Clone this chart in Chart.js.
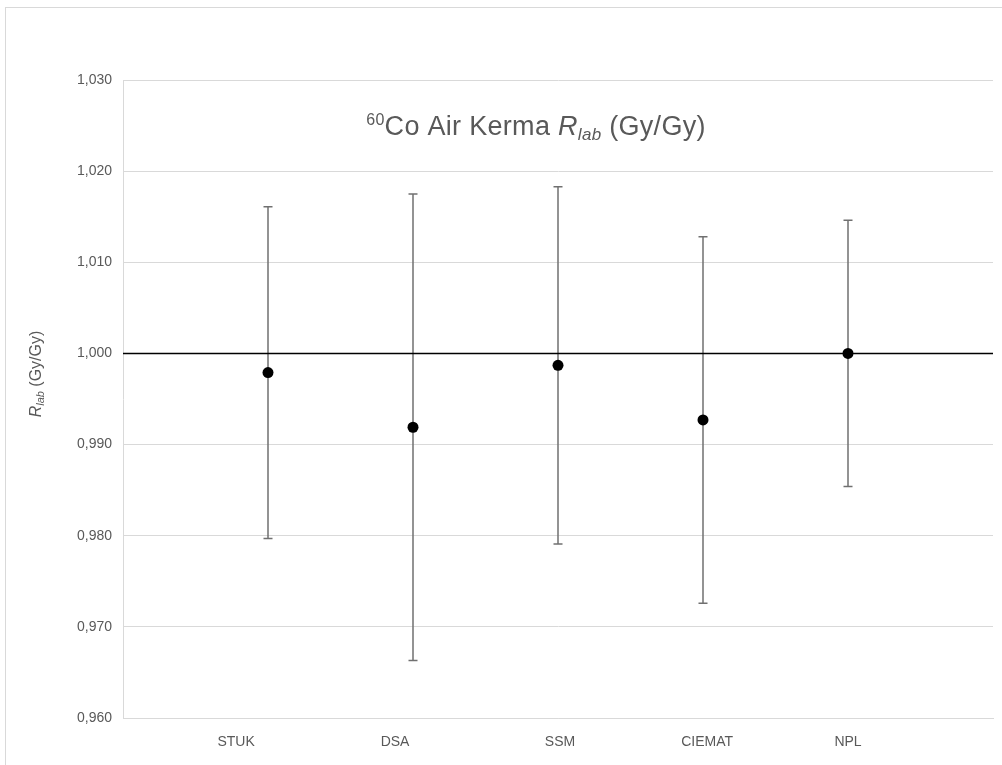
<!DOCTYPE html>
<html>
<head>
<meta charset="utf-8">
<script src="https://cdn.jsdelivr.net/npm/chart.js@4.4.1/dist/chart.umd.min.js"></script>
<style>
  body { margin: 0; background: #fff; overflow: hidden; }
  #frame { position: absolute; left: 5px; top: 7px; width: 1100px; height: 900px; border: 1px solid #d9d9d9; }
  #wrap { position: absolute; left: 0; top: 0; width: 1002px; height: 765px; }
</style>
</head>
<body>
<div id="frame"></div>
<div id="wrap"><canvas id="rlabChart"></canvas></div>
<script>
// Labs and their Rlab results with uncertainty
const labs = ['STUK', 'DSA', 'SSM', 'CIEMAT', 'NPL'];
const rlab = [0.9979, 0.9919, 0.9987, 0.9927, 1.0000];
const unc = [0.0182, 0.0256, 0.0196, 0.0201, 0.0146];
// x values where the lab names sit on the axis (not quite under the points in the original)
const labelAt = [0.78, 1.876, 3.014, 4.028, 5.0];
const yTicks = [0.960, 0.970, 0.980, 0.990, 1.000, 1.010, 1.020, 1.030];
const refLine = 1.000;

const FONT = '"Liberation Sans", Arial, sans-serif';
const TEXT = '#595959';

// text pieces: [text, size, italic, baseline shift]
function runWidth(ctx, parts) {
    let w = 0;
    parts.forEach(p => {
        ctx.font = (p[2] ? 'italic ' : '') + p[1] + 'px ' + FONT;
        w += ctx.measureText(p[0]).width;
    });
    return w;
}
function drawRun(ctx, parts, x, y) {
    parts.forEach(p => {
        ctx.font = (p[2] ? 'italic ' : '') + p[1] + 'px ' + FONT;
        ctx.fillText(p[0], x, y + p[3]);
        x += ctx.measureText(p[0]).width;
    });
}

const errorBars = {
    id: 'errorBars',
    beforeDatasetsDraw(chart) {
        const { ctx, scales: { x, y } } = chart;
        ctx.save();
        ctx.strokeStyle = '#707070';
        ctx.lineWidth = 1.5;
        rlab.forEach((v, i) => {
            const px = x.getPixelForValue(i + 1);
            const top = y.getPixelForValue(v + unc[i]);
            const bot = y.getPixelForValue(v - unc[i]);
            ctx.beginPath();
            ctx.moveTo(px, top); ctx.lineTo(px, bot);
            ctx.moveTo(px - 4.5, top); ctx.lineTo(px + 4.5, top);
            ctx.moveTo(px - 4.5, bot); ctx.lineTo(px + 4.5, bot);
            ctx.stroke();
        });
        ctx.restore();
    }
};

const titles = {
    id: 'titles',
    afterDraw(chart) {
        const ctx = chart.ctx;
        ctx.save();
        ctx.fillStyle = TEXT;
        ctx.textBaseline = 'alphabetic';
        ctx.letterSpacing = '0.3px';
        const main = [['60', 16, false, -10], ['Co Air Kerma ', 27, false, 0], ['R', 27, true, 0],
                      ['lab', 17, true, 5], [' (Gy/Gy)', 27, false, 0]];
        const w = runWidth(ctx, main);
        drawRun(ctx, main, 536 - w / 2, 135);

        ctx.letterSpacing = '0px';
        const side = [['R', 16, true, 0], ['lab', 11, true, 3], [' (Gy/Gy)', 16, false, 0]];
        const sw = runWidth(ctx, side);
        ctx.translate(41, 374);
        ctx.rotate(-Math.PI / 2);
        drawRun(ctx, side, -sw / 2, 0);
        ctx.restore();
    }
};

Chart.defaults.font.family = FONT;
Chart.defaults.color = TEXT;

new Chart(document.getElementById('rlabChart'), {
    type: 'scatter',
    data: {
        datasets: [{
            label: 'Rlab',
            data: rlab.map((v, i) => ({ x: i + 1, y: v })),
            pointRadius: 5.5,
            pointBackgroundColor: '#000',
            pointBorderColor: '#000',
            pointBorderWidth: 0
        }, {
            label: 'ref',
            data: [{ x: 0, y: refLine }, { x: labs.length + 1, y: refLine }],
            showLine: true,
            borderColor: '#000',
            borderWidth: 1.5,
            pointRadius: 0
        }]
    },
    options: {
        responsive: true,
        maintainAspectRatio: false,
        animation: false,
        devicePixelRatio: 1,
        layout: { padding: { top: 80, right: 9, left: 0, bottom: 0 } },
        scales: {
            x: {
                type: 'linear',
                min: 0,
                max: labs.length + 1,
                afterFit(scale) { scale.height = 47; },
                afterBuildTicks(scale) {
                    scale.ticks = labelAt.map(v => ({ value: v }));
                },
                ticks: {
                    font: { size: 14 },
                    padding: 8,
                    maxRotation: 0,
                    autoSkip: false,
                    callback: (v, i) => labs[i]
                },
                grid: { display: false },
                border: { color: '#d9d9d9' }
            },
            y: {
                min: yTicks[0],
                max: yTicks[yTicks.length - 1],
                afterFit(scale) { scale.width = 123; },
                afterBuildTicks(scale) {
                    scale.ticks = yTicks.map(v => ({ value: v }));
                },
                ticks: {
                    font: { size: 14 },
                    padding: 11,
                    callback: v => v.toFixed(3).replace('.', ',')
                },
                grid: { color: '#d9d9d9', drawTicks: false },
                border: { color: '#d9d9d9' }
            }
        },
        plugins: {
            legend: { display: false },
            tooltip: { enabled: false }
        }
    },
    plugins: [errorBars, titles]
});
</script>
</body>
</html>
